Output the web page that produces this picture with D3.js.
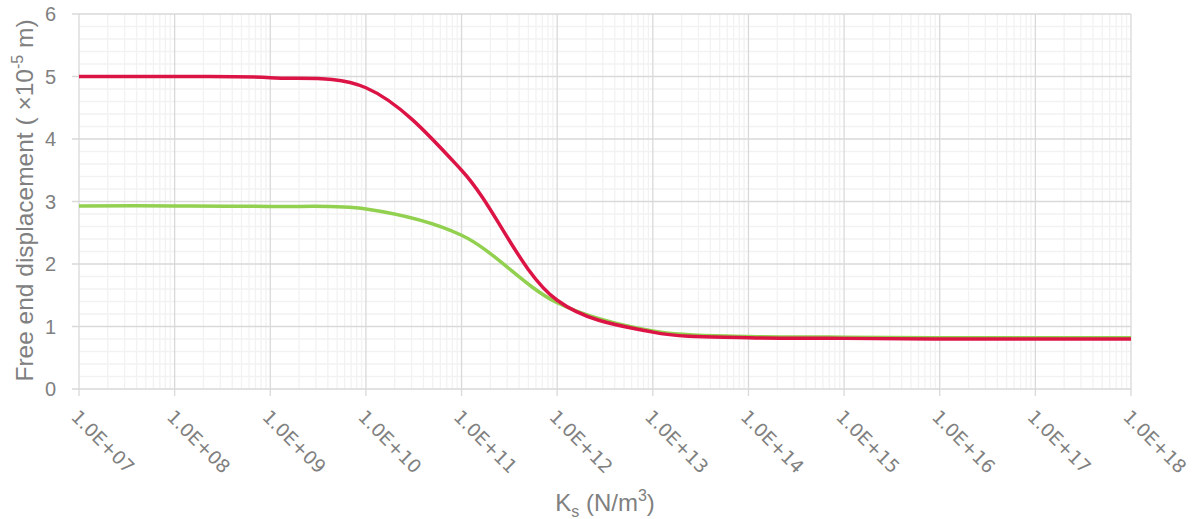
<!DOCTYPE html>
<html>
<head>
<meta charset="utf-8">
<script src="https://cdn.jsdelivr.net/npm/d3@7"></script>
<style>
  body { margin: 0; background: #fff; }
  svg text { fill: #808080; }
</style>
</head>
<body>
<div id="chart"></div>
<script>
// stiffness values, one per decade
var ks = [1e7, 1e8, 1e9, 1e10, 1e11, 1e12, 1e13, 1e14, 1e15, 1e16, 1e17, 1e18]
var tickLabels = ["1.0E+07", "1.0E+08", "1.0E+09", "1.0E+10", "1.0E+11", "1.0E+12",
                  "1.0E+13", "1.0E+14", "1.0E+15", "1.0E+16", "1.0E+17", "1.0E+18"]
var redSeries   = [5.00, 5.00, 4.98, 4.82, 3.50, 1.42, 0.91, 0.82, 0.81, 0.80, 0.80, 0.80]
var greenSeries = [2.93, 2.93, 2.92, 2.88, 2.46, 1.38, 0.93, 0.84, 0.83, 0.82, 0.82, 0.82]
var yTicks = [0, 1, 2, 3, 4, 5, 6]

var W = 1194, H = 519
var margin = {top: 14, right: 63, bottom: 130, left: 79}
var width = W - margin.left - margin.right
var height = H - margin.top - margin.bottom

var svg = d3.select("#chart").append("svg")
    .attr("width", W)
    .attr("height", H)
  .append("g")
    .attr("transform", "translate(" + margin.left + "," + margin.top + ")")

var x = d3.scaleLog().domain([1e7, 1e18]).range([0, width])
var y = d3.scaleLinear().domain([0, 6]).range([height, 0])

// minor grid
var minorX = []
for (var e = 7; e < 18; e++) {
  for (var m = 2; m <= 9; m++) minorX.push(m * Math.pow(10, e))
}
var minorY = d3.range(0, 6.001, 0.2).filter(function(v){ return Math.abs(v - Math.round(v)) > 0.01 })

svg.append("g").selectAll("line").data(minorX).enter().append("line")
  .attr("x1", function(d){ return x(d) }).attr("x2", function(d){ return x(d) })
  .attr("y1", 0).attr("y2", height)
  .attr("stroke", "#f2f2f2").attr("stroke-width", 1.3)
svg.append("g").selectAll("line").data(minorY).enter().append("line")
  .attr("x1", 0).attr("x2", width)
  .attr("y1", function(d){ return y(d) }).attr("y2", function(d){ return y(d) })
  .attr("stroke", "#f2f2f2").attr("stroke-width", 1.3)

// major grid
svg.append("g").selectAll("line").data(ks).enter().append("line")
  .attr("x1", function(d){ return x(d) }).attr("x2", function(d){ return x(d) })
  .attr("y1", 0).attr("y2", height + 7)
  .attr("stroke", "#d9d9d9").attr("stroke-width", 1.3)
svg.append("g").selectAll("line").data(yTicks).enter().append("line")
  .attr("x1", -7).attr("x2", width)
  .attr("y1", function(d){ return y(d) }).attr("y2", function(d){ return y(d) })
  .attr("stroke", "#d9d9d9").attr("stroke-width", 1.3)

// y tick labels
svg.append("g").selectAll("text").data(yTicks).enter().append("text")
  .attr("x", -23).attr("y", function(d){ return y(d) })
  .attr("dy", "0.35em")
  .attr("text-anchor", "end")
  .style("font-family", "Liberation Sans, Arial, sans-serif")
  .style("font-size", "20px")
  .text(function(d){ return d })

// x tick labels, rotated
svg.append("g").selectAll("text").data(ks).enter().append("text")
  .attr("transform", function(d){ return "translate(" + (x(d) - 9) + "," + (height + 29) + ") rotate(45)" })
  .attr("text-anchor", "start")
  .style("font-family", "DejaVu Sans, sans-serif")
  .style("font-size", "18.5px")
  .text(function(d, i){ return tickLabels[i] })

// lines
var line = d3.line()
  .x(function(d){ return x(d[0]) })
  .y(function(d){ return y(d[1]) })
  .curve(d3.curveCatmullRom.alpha(0.5))

svg.append("path")
  .datum(ks.map(function(k, i){ return [k, greenSeries[i]] }))
  .attr("d", line)
  .attr("fill", "none").attr("stroke", "#92d050").attr("stroke-width", 3.5)
svg.append("path")
  .datum(ks.map(function(k, i){ return [k, redSeries[i]] }))
  .attr("d", line)
  .attr("fill", "none").attr("stroke", "#dc1446").attr("stroke-width", 3.5)

// axis titles
var xt = svg.append("text")
  .attr("x", width / 2).attr("y", height + 122)
  .attr("text-anchor", "middle")
  .style("font-family", "Liberation Sans, Arial, sans-serif")
  .style("font-size", "24px")
xt.append("tspan").text("K")
xt.append("tspan").attr("dy", 6).style("font-size", "16px").text("s")
xt.append("tspan").attr("dy", -6).text(" (N/m")
xt.append("tspan").attr("dy", -10).style("font-size", "16px").text("3")
xt.append("tspan").attr("dy", 10).text(")")

var yt = svg.append("text")
  .attr("transform", "translate(" + (-46) + "," + (height / 2 - 1) + ") rotate(-90)")
  .attr("text-anchor", "middle")
  .style("font-family", "Liberation Sans, Arial, sans-serif")
  .style("font-size", "24.5px")
yt.append("tspan").text("Free end displacement ( \u00d710")
yt.append("tspan").attr("dy", -10).style("font-size", "16px").text("-5")
yt.append("tspan").attr("dy", 10).text(" m)")
</script>
</body>
</html>
